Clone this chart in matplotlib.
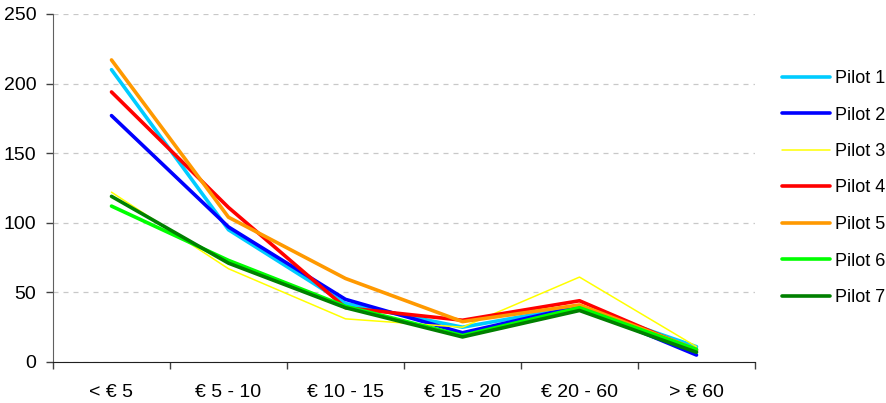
import matplotlib.pyplot as plt
import numpy as np

plt.rcParams.update({'font.family': ['Liberation Sans', 'DejaVu Sans'], 'font.size': 14})

categories = ['< € 5', '€ 5 - 10', '€ 10 - 15', '€ 15 - 20', '€ 20 - 60', '> € 60']
pilot_1 = [210, 95, 42, 25, 40, 11]
pilot_2 = [177, 97, 45, 21, 40, 5]
pilot_3 = [122, 67, 31, 25, 61, 11]
pilot_4 = [194, 111, 39, 30, 44, 8]
pilot_5 = [217, 104, 60, 29, 41, 9]
pilot_6 = [112, 73, 40, 19, 39, 9]
pilot_7 = [119, 71, 39, 18, 37, 7]

series = [
    ('Pilot 1', pilot_1, '#00CCFF', 2.6),
    ('Pilot 2', pilot_2, '#0000FF', 2.6),
    ('Pilot 3', pilot_3, '#FFFF00', 1.1),
    ('Pilot 4', pilot_4, '#FF0000', 2.6),
    ('Pilot 5', pilot_5, '#FF9900', 2.6),
    ('Pilot 6', pilot_6, '#00FF00', 2.6),
    ('Pilot 7', pilot_7, '#008000', 2.6),
]

fig = plt.figure(figsize=(8.87, 4.03), dpi=100)
ax = fig.add_axes([53 / 887, 41 / 403, 702 / 887, 348 / 403])

x = np.arange(len(categories))
for name, vals, color, lw in series:
    ax.plot(x, vals, color=color, lw=lw, label=name, solid_capstyle='round')

ax.set_xlim(-0.5, len(categories) - 0.5)
ax.set_ylim(0, 250)
ax.set_yticks(np.arange(0, 251, 50))
ax.yaxis.grid(True, linestyle=(0, (4, 4)), color='#c8c8c8', lw=0.9)
ax.set_axisbelow(True)

# category labels sit between the minor ticks
ax.set_xticks(x)
ax.set_xticklabels(categories)
ax.set_xticks(np.arange(-0.5, len(categories)), minor=True)
ax.tick_params(axis='x', which='major', length=0, pad=16)
ax.tick_params(axis='x', which='minor', length=5, width=1, color='#404040', direction='out')
ax.tick_params(axis='y', length=5, width=1, color='#404040', direction='out', pad=7)

for side in ['top', 'right']:
    ax.spines[side].set_visible(False)
ax.spines['left'].set_color('#606060')
ax.spines['bottom'].set_color('#202020')

fig.legend(loc='center left', bbox_to_anchor=(782 / 887, 1 - 188 / 403),
           bbox_transform=fig.transFigure, frameon=False, borderpad=0, borderaxespad=0,
           fontsize=13, handlelength=2.65, labelspacing=1.08, handletextpad=0.28)

plt.savefig('out.png', dpi=100)
plt.close()
